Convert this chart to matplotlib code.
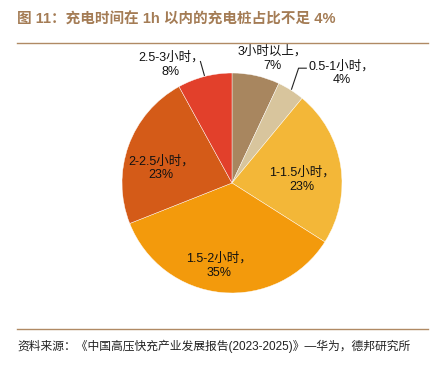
import numpy as np
import matplotlib
matplotlib.use("Agg")
import matplotlib.pyplot as plt

plt.rcParams['font.family'] = ['Liberation Sans', 'Noto Sans CJK SC', 'DejaVu Sans']

# data
categories = ['3小时以上', '0.5-1小时', '1-1.5小时', '1.5-2小时', '2-2.5小时', '2.5-3小时']
shares = [7, 4, 23, 35, 23, 8]
colors = ['#A8865F', '#D8C59D', '#F3B738', '#F39A0C', '#D45B18', '#E2402B']

title = '图 11：充电时间在 1h 以内的充电桩占比不足 4%'
source = '资料来源：《中国高压快充产业发展报告(2023-2025)》—华为，德邦研究所'

# label layout: (radius, angle offset in deg, leader line?)
label_pos = [(1.19, -5.5, False), (1.41, -12.5, True), (0.64, -6.5, False),
             (0.76, -3.5, False), (0.66, 8, False), (1.21, 13, True)]

W, H = 432, 368
fig = plt.figure(figsize=(W / 100, H / 100), dpi=100)

# pie centre at (232, 183) px, radius 110 px
cx, cy, r_px = 232, 183, 110
L = 1.6
half = L * r_px
ax = fig.add_axes([(cx - half) / W, (H - cy - half) / H, 2 * half / W, 2 * half / H])
wedges, _ = ax.pie(shares, colors=colors, startangle=90, counterclock=False,
                   radius=1, wedgeprops=dict(edgecolor='white', linewidth=0.3))
ax.set_xlim(-L, L)
ax.set_ylim(-L, L)
ax.set_aspect('equal')
ax.axis('off')

for w, cat, val, (rad, off, lead) in zip(wedges, categories, shares, label_pos):
    mid = np.deg2rad((w.theta1 + w.theta2) / 2)
    ang = mid + np.deg2rad(off)
    tx, ty = rad * np.cos(ang), rad * np.sin(ang)
    ax.text(tx, ty, f'{cat}，\n{val}%', ha='center', va='center', fontsize=9,
            linespacing=1.25, color='#111111')
    if lead:
        ex, ey = np.cos(mid), np.sin(mid)
        if np.cos(mid) > 0:
            # elbow to the left of the label
            py = ty + 0.045
            ax.plot([ex * 1.01, tx - 0.39, tx - 0.32], [ey * 1.01, py, py],
                    color='#222222', lw=0.8)
        else:
            px, py = tx + 0.27, ty + 0.03
            ax.plot([ex * 1.01, px], [ey * 1.01, py], color='#222222', lw=0.8)

title_color = '#A47C55'
fig.text(17 / W, 1 - 20 / H, title, fontsize=10.5, fontweight='bold', color=title_color,
         ha='left', va='center')
fig.add_artist(plt.Line2D([17 / W, 428 / W], [1 - 43 / H, 1 - 43 / H],
                          color='#B08A64', lw=1.0))
fig.add_artist(plt.Line2D([17 / W, 428 / W], [1 - 329 / H, 1 - 329 / H],
                          color='#B08A64', lw=1.0))
fig.text(17 / W, 1 - 346 / H, source, fontsize=8.5, color='#222222',
         ha='left', va='center')

fig.savefig('out.png', dpi=100)
